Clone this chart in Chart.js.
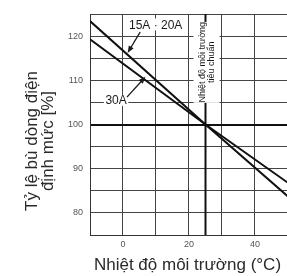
<!DOCTYPE html>
<html>
<head>
<meta charset="utf-8">
<script src="https://cdn.jsdelivr.net/npm/chart.js@4"></script>
<style>
  html, body { margin: 0; padding: 0; background: #fff; }
  #wrap { width: 287px; height: 276px; }
</style>
</head>
<body>
<div id="wrap"><canvas id="deratingChart" width="287" height="276"></canvas></div>
<script>
// values
const temps = [-10, 25, 50];
const ratio1520 = [123.4, 100, 83.7];
const ratio30 = [119.3, 100, 86.8];
const xLabelTicks = [0, 20, 40];
const yLabelTicks = [80, 90, 100, 110, 120];
const standardTemp = 25;
const seriesNames = ["15A · 20A", "30A"];
const yTitle = ["Tỷ lệ bù dòng điện", "định mức [%]"];
const xTitle = "Nhiệt độ môi trường (°C)";
const refNote = ["Nhiệt độ môi trường", "tiêu chuẩn"];

const FONT = "'Liberation Sans', Arial, sans-serif";

function toPoints(xs, ys) {
    return xs.map((x, i) => ({ x: x, y: ys[i] }));
}

function arrow(ctx, x1, y1, x2, y2) {
    let a = Math.atan2(y2 - y1, x2 - x1);
    ctx.beginPath();
    ctx.moveTo(x1, y1);
    ctx.lineTo(x2 - 4 * Math.cos(a), y2 - 4 * Math.sin(a));
    ctx.stroke();
    ctx.beginPath();
    ctx.moveTo(x2, y2);
    ctx.lineTo(x2 - 7 * Math.cos(a) + 2.8 * Math.sin(a), y2 - 7 * Math.sin(a) - 2.8 * Math.cos(a));
    ctx.lineTo(x2 - 7 * Math.cos(a) - 2.8 * Math.sin(a), y2 - 7 * Math.sin(a) + 2.8 * Math.cos(a));
    ctx.closePath();
    ctx.fill();
}

const annotations = {
    id: 'annotations',
    beforeDatasetsDraw(chart) {
        let ctx = chart.ctx;
        let xs = chart.scales.x, ys = chart.scales.y;
        let area = chart.chartArea;
        ctx.save();
        // standard temperature line
        let xr = xs.getPixelForValue(standardTemp);
        ctx.strokeStyle = '#111';
        ctx.lineWidth = 2;
        ctx.beginPath();
        ctx.moveTo(xr, area.top);
        ctx.lineTo(xr, area.bottom);
        ctx.stroke();
        // white boxes behind the labels
        ctx.fillStyle = '#fff';
        ctx.fillRect(xr - 12, ys.getPixelForValue(123.2), 26, ys.getPixelForValue(104.9) - ys.getPixelForValue(123.2));
        ctx.fillRect(xs.getPixelForValue(1.9), ys.getPixelForValue(124.0), xs.getPixelForValue(18.0) - xs.getPixelForValue(1.9), 12);
        ctx.fillRect(xs.getPixelForValue(-5.8), ys.getPixelForValue(106.7), xs.getPixelForValue(1.6) - xs.getPixelForValue(-5.8), 11);
        ctx.restore();
    },
    afterDatasetsDraw(chart) {
        let ctx = chart.ctx;
        let xs = chart.scales.x, ys = chart.scales.y;
        let area = chart.chartArea;
        ctx.save();
        ctx.fillStyle = '#1a1a1a';
        ctx.strokeStyle = '#1a1a1a';
        ctx.lineWidth = 1.3;
        ctx.textAlign = 'center';
        ctx.textBaseline = 'middle';

        ctx.font = '12px ' + FONT;
        ctx.fillText(seriesNames[0], xs.getPixelForValue(9.9), ys.getPixelForValue(122.4));
        ctx.fillText(seriesNames[1], xs.getPixelForValue(-2.1), ys.getPixelForValue(105.3));
        arrow(ctx, xs.getPixelForValue(5.2), ys.getPixelForValue(120.9), xs.getPixelForValue(1.4), ys.getPixelForValue(116.2));
        arrow(ctx, xs.getPixelForValue(1.2), ys.getPixelForValue(106.2), xs.getPixelForValue(6.8), ys.getPixelForValue(110.8));

        // rotated note next to the standard temperature line
        let xr = xs.getPixelForValue(standardTemp);
        let yc = ys.getPixelForValue(114.1);
        ctx.textBaseline = 'alphabetic';
        ctx.font = '9px ' + FONT;
        ctx.save();
        ctx.translate(xr, yc);
        ctx.rotate(-Math.PI / 2);
        ctx.fillText(refNote[0], 0, 0);
        ctx.fillText(refNote[1], 0, 9);
        ctx.restore();

        // axis titles
        ctx.fillStyle = '#2a2a2a';
        ctx.font = '17px ' + FONT;
        ctx.fillText(xTitle, (area.left + area.right) / 2 - 1, 270);
        ctx.save();
        ctx.translate(0, 141);
        ctx.rotate(-Math.PI / 2);
        ctx.fillText(yTitle[0], 0, 37);
        ctx.fillText(yTitle[1], 0, 53);
        ctx.restore();
        ctx.restore();
    }
};

let lineData = {
    datasets: [{
        label: seriesNames[0],
        data: toPoints(temps, ratio1520),
        borderColor: '#111',
        borderWidth: 2,
        pointRadius: 0
    }, {
        label: seriesNames[1],
        data: toPoints(temps, ratio30),
        borderColor: '#111',
        borderWidth: 2,
        pointRadius: 0
    }]
};

let lineOptions = {
    responsive: false,
    animation: false,
    layout: { padding: { top: 14, right: 0, left: 0, bottom: 0 } },
    plugins: { legend: { display: false }, tooltip: { enabled: false } },
    scales: {
        x: {
            type: 'linear',
            min: -10,
            max: 49.7,
            afterFit(scale) { scale.height = 41; },
            border: { color: '#333', width: 1 },
            grid: { color: '#444', lineWidth: 1, drawTicks: false },
            ticks: {
                stepSize: 10,
                includeBounds: false,
                padding: 4,
                color: '#555',
                font: { family: FONT, size: 9 },
                maxRotation: 0,
                autoSkip: false,
                callback: v => xLabelTicks.includes(v) ? String(v) : ''
            }
        },
        y: {
            min: 75,
            max: 125,
            afterFit(scale) { scale.width = 90; },
            border: { color: '#333', width: 1 },
            grid: {
                color: ctx => ctx.tick && ctx.tick.value === 100 ? '#111' : '#444',
                lineWidth: ctx => ctx.tick && ctx.tick.value === 100 ? 2 : 1,
                drawTicks: false
            },
            ticks: {
                stepSize: 5,
                padding: 7,
                color: '#555',
                font: { family: FONT, size: 9 },
                autoSkip: false,
                callback: v => yLabelTicks.includes(v) ? String(v) : ''
            }
        }
    }
};

let ctx = document.getElementById("deratingChart").getContext("2d");
new Chart(ctx, { type: 'line', data: lineData, options: lineOptions, plugins: [annotations] });
</script>
</body>
</html>
